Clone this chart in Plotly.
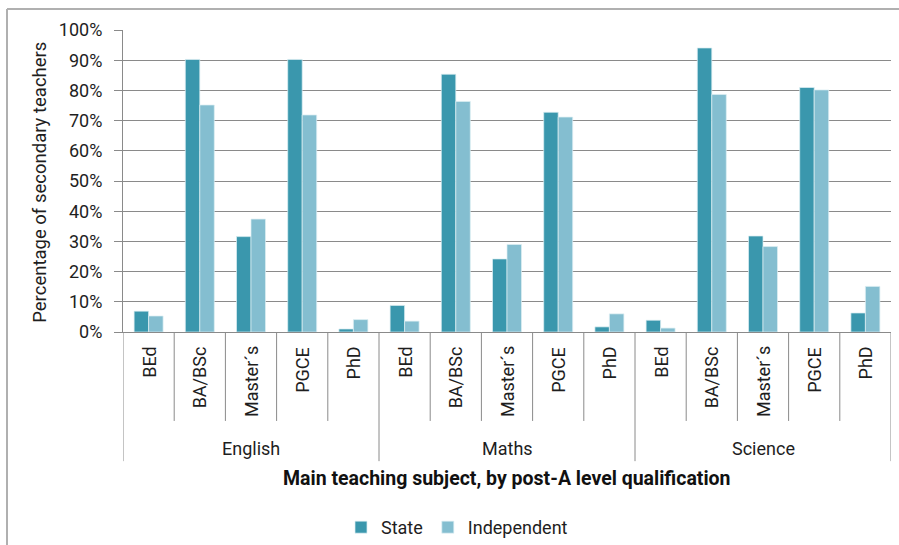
import plotly.graph_objects as go

subjects = ["English", "Maths", "Science"]
qualifications = ["BEd", "BA/BSc", "Master's", "PGCE", "PhD"]
qual_labels = ["BEd", "BA/BSc", "Master\u00b4s", "PGCE", "PhD"]

state = [6.9, 90.3, 31.6, 90.3, 1.0,
         8.8, 85.4, 24.2, 72.8, 1.7,
         3.9, 94.1, 31.8, 81.0, 6.3]
independent = [5.3, 75.2, 37.4, 71.9, 4.1,
               3.6, 76.4, 29.0, 71.2, 6.0,
               1.3, 78.7, 28.3, 80.2, 15.1]

y_ticks = [0, 10, 20, 30, 40, 50, 60, 70, 80, 90, 100]
y_title = "Percentage of secondary teachers"
x_title = "Main teaching subject, by post-A level qualification"

# the captured picture comes out slightly compressed vertically; layout in
# screen pixels is scaled by SY so that positions match the reference image
SY = 553 / 545
W, H = 899, 553
PLOT_TOP, PLOT_BOTTOM = 30 * SY, 330.5 * SY
L, R = 123, 8
T, B = PLOT_TOP, H - PLOT_BOTTOM
PW, PH = W - L - R, PLOT_BOTTOM - PLOT_TOP

def px(xp):
    return (xp - L) / PW

def py(yp):
    # yp given in reference-image pixels
    return (PLOT_BOTTOM - yp * SY) / PH

FONT = "Roboto"
GRAY = "#8a8a8a"
TXT = "#1e1e1e"
C_STATE = "#3a97ad"
C_IND = "#84bed0"

n = len(subjects) * len(qualifications)
xs = [i + 0.5 for i in range(n)]

fig = go.Figure()
fig.add_trace(go.Bar(x=xs, y=[v / 100 for v in state], name="State",
                     marker=dict(color=C_STATE, line=dict(color="rgba(220,238,243,0.9)", width=0.8))))
fig.add_trace(go.Bar(x=xs, y=[v / 100 for v in independent], name="Independent",
                     marker=dict(color=C_IND, line=dict(color="rgba(220,238,243,0.9)", width=0.8))))

shapes = []
# outer frame (left and top)
shapes.append(dict(type="line", xref="paper", yref="paper", x0=px(7), x1=px(W + 5),
                   y0=py(9), y1=py(9), line=dict(color="#b0b0b0", width=2)))
shapes.append(dict(type="line", xref="paper", yref="paper", x0=px(7), x1=px(7),
                   y0=py(9), y1=py(560), line=dict(color="#b0b0b0", width=2)))
# category separators
for k in range(n + 1):
    bottom = 459 if k % len(qualifications) == 0 else 419
    shapes.append(dict(type="line", xref="x", yref="paper", x0=k, x1=k,
                       y0=0, y1=py(bottom), line=dict(color=GRAY, width=1)))

annotations = []
for i in range(n):
    q = qual_labels[i % len(qualifications)]
    annotations.append(dict(text=q, xref="x", yref="paper", x=i + 0.5, y=py(343),
                            yanchor="top", xanchor="center", textangle=-90, showarrow=False,
                            font=dict(family=FONT, size=18, color=TXT)))
for g, s in enumerate(subjects):
    annotations.append(dict(text=s, xref="x", yref="paper",
                            x=g * len(qualifications) + len(qualifications) / 2, y=py(446),
                            yanchor="middle", xanchor="center", showarrow=False,
                            font=dict(family=FONT, size=18, color=TXT)))
annotations.append(dict(text="<b>" + x_title + "</b>", xref="paper", yref="paper",
                        x=0.5, y=py(476), xanchor="center", yanchor="middle", showarrow=False,
                        font=dict(family=FONT, size=19.5, color="#111")))
annotations.append(dict(text=y_title, xref="paper", yref="paper", x=px(40), y=py(182),
                        xanchor="center", yanchor="middle", textangle=-90, showarrow=False,
                        font=dict(family=FONT, size=18.5, color=TXT)))

fig.update_layout(
    width=W, height=H,
    margin=dict(l=L, r=R, t=T, b=B),
    paper_bgcolor="white", plot_bgcolor="white",
    barmode="group", bargap=0.434, bargroupgap=0,
    font=dict(family=FONT, size=18, color=TXT),
    shapes=shapes, annotations=annotations,
    legend=dict(orientation="h", x=px(341), y=py(525), xanchor="left", yanchor="middle",
                font=dict(family=FONT, size=18, color=TXT), itemwidth=30,
                tracegroupgap=0, itemclick=False),
    showlegend=True,
)
fig.update_xaxes(range=[0, n], showticklabels=False, showgrid=False, zeroline=False,
                 showline=True, linecolor=GRAY, linewidth=1, ticks="")
fig.update_yaxes(range=[0, 1.0005], tickvals=[v / 100 for v in y_ticks],
                 ticktext=[f"{v}%" for v in y_ticks], showgrid=True, gridcolor=GRAY, gridwidth=1,
                 zeroline=False, showline=True, linecolor=GRAY, linewidth=1,
                 ticks="outside", ticklen=8, tickcolor=GRAY, ticklabelstandoff=8,
                 tickfont=dict(family=FONT, size=18, color=TXT))

fig.write_html("out.html", config={"displayModeBar": False},
               post_script="document.body.style.margin='0px';document.body.style.overflow='hidden';")
